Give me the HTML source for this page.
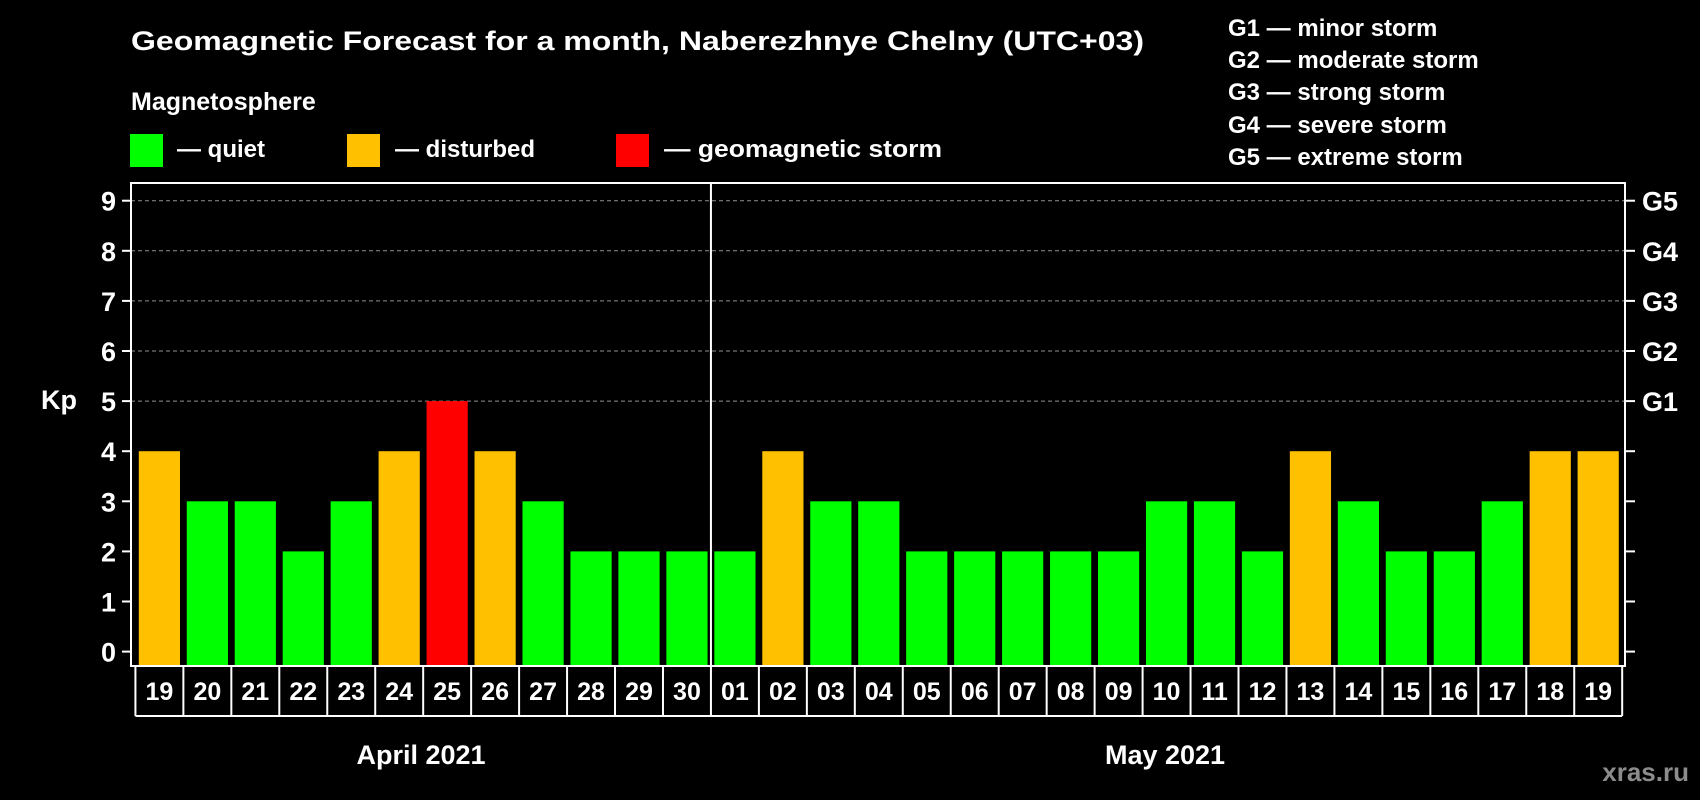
<!DOCTYPE html>
<html><head><meta charset="utf-8"><style>
html,body{margin:0;padding:0;background:#000;}
svg{display:block;font-family:"Liberation Sans",Arial,sans-serif;font-weight:bold;}
</style></head><body>
<svg id="chart" width="1700" height="800" viewBox="0 0 1700 800" xmlns="http://www.w3.org/2000/svg">
<rect width="1700" height="800" fill="#000"/>
<text x="131" y="50" fill="#fff" font-size="27" textLength="1013" lengthAdjust="spacingAndGlyphs">Geomagnetic Forecast for a month, Naberezhnye Chelny (UTC+03)</text>
<text x="131" y="110" fill="#fff" font-size="25">Magnetosphere</text>
<rect x="130" y="134" width="33" height="33" fill="#00ff00"/>
<text x="177" y="157" fill="#fff" font-size="24">— quiet</text>
<rect x="347" y="134" width="33" height="33" fill="#ffc000"/>
<text x="395" y="157" fill="#fff" font-size="24">— disturbed</text>
<rect x="616" y="134" width="33" height="33" fill="#ff0000"/>
<text x="664" y="157" fill="#fff" font-size="24" textLength="278" lengthAdjust="spacingAndGlyphs">— geomagnetic storm</text>
<g fill="#fff" font-size="24">
<text x="1228" y="36">G1 — minor storm</text>
<text x="1228" y="68">G2 — moderate storm</text>
<text x="1228" y="100">G3 — strong storm</text>
<text x="1228" y="133">G4 — severe storm</text>
<text x="1228" y="165">G5 — extreme storm</text>
</g>
<g id="plot"></g>
<text x="41" y="409" fill="#fff" font-size="27">Kp</text>
<text x="421" y="764" fill="#fff" font-size="27" text-anchor="middle">April 2021</text>
<text x="1165" y="764" fill="#fff" font-size="27" text-anchor="middle">May 2021</text>
<text x="1689" y="781" fill="#8c8c8c" font-size="26" text-anchor="end">xras.ru</text>
</svg>
<script>
const days = ["19","20","21","22","23","24","25","26","27","28","29","30","01","02","03","04","05","06","07","08","09","10","11","12","13","14","15","16","17","18","19"];
const kpValues = [4,3,3,2,3,4,5,4,3,2,2,2,2,4,3,3,2,2,2,2,2,3,3,2,4,3,2,2,3,4,4];
const yTicks = [0,1,2,3,4,5,6,7,8,9];
const gLabels = ["G1","G2","G3","G4","G5"];
const gLevels = [5,6,7,8,9];

const NS = "http://www.w3.org/2000/svg";
const plot = document.getElementById("plot");
const L = 131, R = 1625, T = 183, B = 666;
const y0 = 651.6, yStep = 50.1;
const x0 = 138.8, xStep = 47.96, bw = 41.2;
const yScale = v => y0 - v * yStep;
const xScale = i => x0 + i * xStep;
function mk(tag, attrs) { const e = document.createElementNS(NS, tag); for (const k in attrs) e.setAttribute(k, attrs[k]); plot.appendChild(e); return e; }

// gridlines
gLevels.forEach(v => {
  const g = mk("line", {x1: L, x2: R, y1: yScale(v), y2: yScale(v), stroke: "#909090", "stroke-width": 1, "stroke-dasharray": "4,3"});
  
  
});
// bars
kpValues.forEach((v, i) => {
  const c = v >= 5 ? "#ff0000" : (v >= 4 ? "#ffc000" : "#00ff00");
  const r = mk("rect", {x: xScale(i), y: yScale(v), width: bw, height: B - yScale(v), fill: c});
  
  
});
// frame
const fr = mk("rect", {x: L, y: T, width: R - L, height: B - T, fill: "none", stroke: "#fff", "stroke-width": 2});


// month divider
const divX = xScale(12) - (xStep - bw) / 2;
const dv = mk("line", {x1: divX, x2: divX, y1: T, y2: B, stroke: "#fff", "stroke-width": 2});


// y ticks
yTicks.forEach(v => {
  const y = yScale(v);
  const t1 = mk("line", {x1: L - 9, x2: L, y1: y, y2: y, stroke: "#fff", "stroke-width": 2});
  
  
  const t2 = mk("line", {x1: R, x2: R + 10, y1: y, y2: y, stroke: "#fff", "stroke-width": 2});
  
  
  const tx = mk("text", {x: 116, y: y + 10, fill: "#fff", "font-size": 27, "text-anchor": "end"});
  tx.textContent = String(v);
  
  
});
gLabels.forEach((g, i) => {
  const tx = mk("text", {x: 1642, y: yScale(gLevels[i]) + 10, fill: "#fff", "font-size": 27});
  tx.textContent = g;
  
  
});
// date row
const rowB = 716;
const lx = xScale(0) - (xStep - bw) / 2, rx = xScale(days.length - 1) + bw + (xStep - bw) / 2;
const bl = mk("line", {x1: lx, x2: rx, y1: rowB, y2: rowB, stroke: "#fff", "stroke-width": 2});


for (let i = 0; i <= days.length; i++) {
  const x = xScale(i) - (xStep - bw) / 2;
  const ln = mk("line", {x1: x, x2: x, y1: B, y2: rowB, stroke: "#fff", "stroke-width": 2});
  
  
}
days.forEach((d, i) => {
  const tx = mk("text", {x: xScale(i) + bw / 2, y: 700, fill: "#fff", "font-size": 25, "text-anchor": "middle"});
  tx.textContent = d;
  
  
});
</script>
</body></html>
